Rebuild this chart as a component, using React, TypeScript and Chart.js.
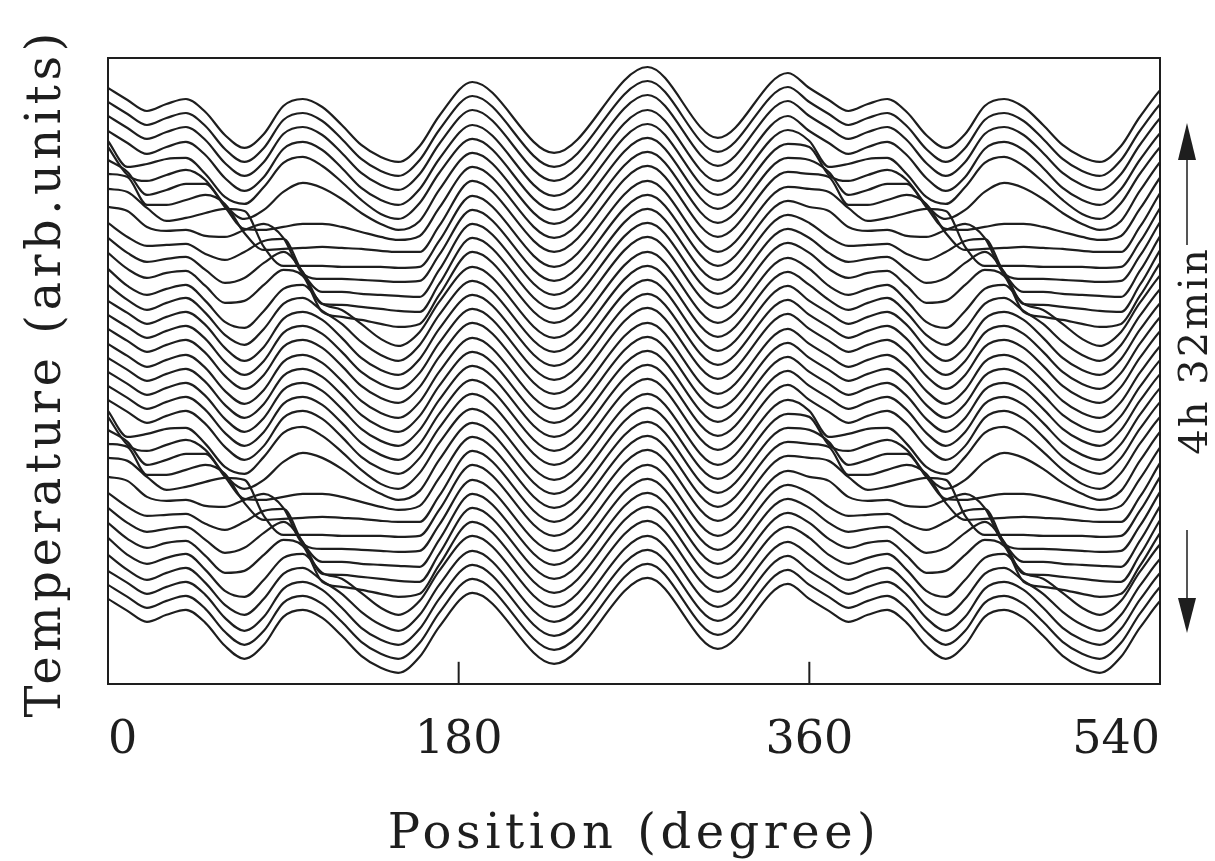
import React, { useEffect, useRef } from 'react';
import { Chart, registerables } from 'chart.js';

Chart.register(...registerables);

// x ticks (degrees)
const X_TICKS = [0, 180, 360, 540];
// sample positions (degrees) of each measured profile, one turn of the annulus
const DEFECT_DEG = [0, 10, 20, 30, 40, 50, 60, 70, 80, 90, 100, 110, 120, 130, 140, 149, 160, 170];
const REGULAR_DEG = [187, 229, 277, 313, 349];
// standing part of the pattern, shared by all records (arb. units)
const REGULAR_PROFILE = [36, -35, 51, -20, 45];
// vertical offset of each record (top record first)
const OFFSETS = [566, 552, 538, 523, 509, 495, 481, 467, 452, 438, 424, 410, 396, 381, 367, 353, 339, 325, 310, 296, 282, 268, 254, 239, 225, 211, 197, 183, 168, 154, 140, 126, 112, 97, 83, 69, 55];
// temperature deviation of each record on DEFECT_DEG (top record first)
const DEFECT_PROFILES: number[][] = [
  [30, 18, 7, 14, 19, 6, -17, -30, -16, 12, 19, 11, -7, -27, -39, -44, -28, 2],
  [30, 18, 7, 14, 19, 6, -17, -30, -16, 12, 19, 11, -7, -27, -39, -44, -28, 2],
  [30, 18, 7, 14, 19, 6, -17, -30, -16, 12, 19, 11, -7, -27, -39, -44, -28, 2],
  [30, 18, 7, 14, 19, 6, -17, -30, -16, 12, 19, 11, -7, -27, -39, -44, -28, 2],
  [34, 8, 11, 16, 17, 1, -22, -29, -12, 12, 18, 9, -7, -25, -39, -44, -28, 2],
  [42, 14, 8, 14, 19, 9, -16, -30, -21, -3, 6, 1, -10, -24, -35, -41, -32, -1],
  [43, 31, 8, 13, 19, 19, -4, -26, -27, -24, -21, -21, -24, -29, -34, -37, -33, -5],
  [43, 40, 12, 12, 17, 22, 13, -16, -33, -32, -31, -30, -31, -32, -34, -35, -35, -9],
  [43, 40, 24, 11, 14, 19, 23, 21, -15, -34, -34, -34, -35, -35, -35, -36, -35, -9],
  [39, 35, 19, 15, 16, 10, 9, 16, 22, 8, -28, -33, -33, -34, -35, -36, -35, -9],
  [37, 23, 14, 15, 16, 6, 0, 8, 19, 21, -13, -32, -32, -34, -35, -36, -37, -10],
  [36, 21, 12, 15, 17, 4, -9, -4, 11, 22, 2, -30, -31, -33, -35, -37, -38, -10],
  [35, 19, 10, 15, 17, 2, -15, -13, 3, 18, 12, -24, -29, -32, -36, -39, -36, -7],
  [34, 17, 8, 14, 18, 2, -19, -25, -8, 14, 18, -1, -7, -21, -36, -43, -29, 1],
  [32, 17, 7, 14, 19, 4, -18, -28, -12, 13, 19, 6, -7, -25, -38, -44, -28, 2],
  [30, 18, 7, 14, 19, 6, -17, -30, -16, 12, 19, 11, -7, -27, -39, -44, -28, 2],
  [30, 18, 7, 14, 19, 6, -17, -30, -16, 12, 19, 11, -7, -27, -39, -44, -28, 2],
  [30, 18, 7, 14, 19, 6, -17, -30, -16, 12, 19, 11, -7, -27, -39, -44, -28, 2],
  [30, 18, 7, 14, 19, 6, -17, -30, -16, 12, 19, 11, -7, -27, -39, -44, -28, 2],
  [30, 18, 7, 14, 19, 6, -17, -30, -16, 12, 19, 11, -7, -27, -39, -44, -28, 2],
  [30, 18, 7, 14, 19, 6, -17, -30, -16, 12, 19, 11, -7, -27, -39, -44, -28, 2],
  [30, 18, 7, 14, 19, 6, -17, -30, -16, 12, 19, 11, -7, -27, -39, -44, -28, 2],
  [30, 18, 7, 14, 19, 6, -17, -30, -16, 12, 19, 11, -7, -27, -39, -44, -28, 2],
  [34, 8, 11, 16, 17, 1, -22, -29, -12, 12, 18, 9, -7, -25, -39, -44, -28, 2],
  [42, 14, 8, 14, 19, 9, -16, -30, -21, -3, 6, 1, -10, -24, -35, -41, -32, -1],
  [43, 31, 8, 13, 19, 19, -4, -26, -27, -24, -21, -21, -24, -29, -34, -37, -33, -5],
  [43, 40, 12, 12, 17, 22, 13, -16, -33, -32, -31, -30, -31, -32, -34, -35, -35, -9],
  [43, 40, 24, 11, 14, 19, 23, 21, -15, -34, -34, -34, -35, -35, -35, -36, -35, -9],
  [39, 35, 19, 15, 16, 10, 9, 16, 22, 8, -28, -33, -33, -34, -35, -36, -35, -9],
  [37, 23, 14, 15, 16, 6, 0, 8, 19, 21, -13, -32, -32, -34, -35, -36, -37, -10],
  [36, 21, 12, 15, 17, 4, -9, -4, 11, 22, 2, -30, -31, -33, -35, -37, -38, -10],
  [35, 19, 10, 15, 17, 2, -15, -13, 3, 18, 12, -24, -29, -32, -36, -39, -36, -7],
  [34, 17, 8, 14, 18, 2, -19, -25, -8, 14, 18, -1, -7, -21, -36, -43, -29, 1],
  [32, 17, 7, 14, 19, 4, -18, -28, -12, 13, 19, 6, -7, -25, -38, -44, -28, 2],
  [30, 18, 7, 14, 19, 6, -17, -30, -16, 12, 19, 11, -7, -27, -39, -44, -28, 2],
  [30, 18, 7, 14, 19, 6, -17, -30, -16, 12, 19, 11, -7, -27, -39, -44, -28, 2],
  [30, 18, 7, 14, 19, 6, -17, -30, -16, 12, 19, 11, -7, -27, -39, -44, -28, 2],
];

const FONT = "'DejaVu Serif', 'Liberation Serif', serif";
const INK = '#1e1e1e';

// the annulus is periodic: the 360..540 part shows the 0..180 part again
function curvePoints(i: number) {
  const deg = [...DEFECT_DEG, ...REGULAR_DEG];
  const val = [...DEFECT_PROFILES[i], ...REGULAR_PROFILE];
  const pts: { x: number; y: number }[] = [];
  for (const turn of [0, 360]) {
    deg.forEach((d, j) => pts.push({ x: d + turn, y: OFFSETS[i] + val[j] }));
  }
  pts.push({ x: 720, y: OFFSETS[i] + val[0] });
  return pts;
}

const annotations = {
  id: 'annotations',
  afterDraw(chart: any) {
    const { ctx, chartArea, scales } = chart;
    const xs = scales.x;
    ctx.save();
    ctx.strokeStyle = INK;
    ctx.fillStyle = INK;
    ctx.lineWidth = 2;
    X_TICKS.forEach((t) => {
      const px = xs.getPixelForValue(t);
      ctx.beginPath();
      ctx.moveTo(px, chartArea.bottom);
      ctx.lineTo(px, chartArea.bottom - 22);
      ctx.stroke();
    });
    ctx.font = `48px ${FONT}`;
    (ctx as any).letterSpacing = '4.5px';
    ctx.textAlign = 'center';
    ctx.textBaseline = 'alphabetic';
    ctx.fillText('Position (degree)', (chartArea.left + chartArea.right) / 2, 848);
    ctx.save();
    ctx.translate(60, (chartArea.top + chartArea.bottom) / 2 + 2);
    ctx.rotate(-Math.PI / 2);
    ctx.fillText('Temperature (arb.units)', 0, 0);
    ctx.restore();
    ctx.save();
    ctx.font = `40px ${FONT}`;
    (ctx as any).letterSpacing = '2px';
    ctx.translate(1207, 351);
    ctx.rotate(-Math.PI / 2);
    ctx.fillText('4h 32min', 0, 0);
    ctx.restore();
    const ax = 1187;
    ctx.lineWidth = 1.5;
    ctx.beginPath();
    ctx.moveTo(ax, 245);
    ctx.lineTo(ax, 155);
    ctx.moveTo(ax, 530);
    ctx.lineTo(ax, 605);
    ctx.stroke();
    ctx.beginPath();
    ctx.moveTo(ax, 123);
    ctx.lineTo(ax - 9, 160);
    ctx.lineTo(ax + 9, 160);
    ctx.closePath();
    ctx.fill();
    ctx.beginPath();
    ctx.moveTo(ax, 633);
    ctx.lineTo(ax - 9, 598);
    ctx.lineTo(ax + 9, 598);
    ctx.closePath();
    ctx.fill();
    ctx.restore();
  },
};

export default function App() {
  const ref = useRef<HTMLCanvasElement>(null);
  useEffect(() => {
    if (!ref.current) return;
    const hidden = { display: false };
    const border = { display: true, color: INK, width: 2 };
    const chart = new Chart(ref.current, {
      type: 'line',
      data: {
        datasets: OFFSETS.map((_, i) => ({
          data: curvePoints(i),
          borderColor: INK,
          borderWidth: 2.2,
          pointRadius: 0,
          fill: false,
          cubicInterpolationMode: 'monotone' as const,
        })),
      },
      options: {
        animation: false,
        responsive: false,
        events: [],
        layout: { padding: { left: 108, right: 55, top: 58, bottom: 62 } },
        plugins: { legend: hidden, tooltip: { enabled: false } },
        scales: {
          x: {
            type: 'linear', position: 'bottom', min: 0, max: 540,
            afterBuildTicks: (s: any) => { s.ticks = X_TICKS.map((v) => ({ value: v })); },
            ticks: { color: INK, padding: 30, align: 'inner', font: { family: FONT, size: 46 } },
            grid: { display: false, drawTicks: false },
            border,
          },
          x2: {
            type: 'linear', position: 'top', min: 0, max: 540,
            ticks: hidden, grid: { display: false, drawTicks: false }, border,
          },
          y: {
            type: 'linear', position: 'left', min: 0, max: 626,
            ticks: hidden, grid: { display: false, drawTicks: false }, border,
          },
          y2: {
            type: 'linear', position: 'right', min: 0, max: 626,
            ticks: hidden, grid: { display: false, drawTicks: false }, border,
          },
        },
      } as any,
      plugins: [annotations],
    });
    return () => chart.destroy();
  }, []);
  return (
    <div style={{ position: 'absolute', left: 0, top: 0, width: 1215, height: 861, background: '#fff' }}>
      <canvas ref={ref} width={1215} height={861} />
    </div>
  );
}
